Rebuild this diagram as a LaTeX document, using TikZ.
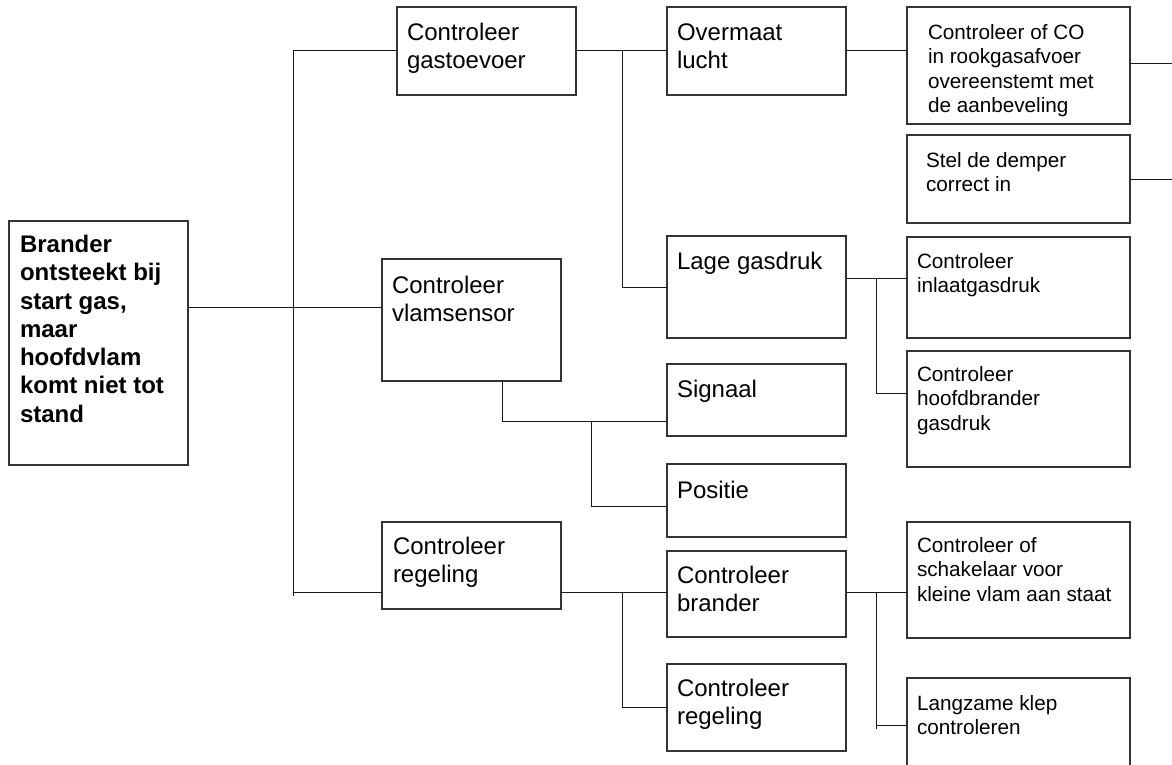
\documentclass[tikz,border=0pt]{standalone}
\usepackage{fontspec}
\setmainfont{Liberation Sans}
\begin{document}
\begin{tikzpicture}[x=1pt,y=-1pt,
  box/.style={draw=black!80, line width=1.1pt, anchor=north west, inner sep=0pt, outer sep=0pt},
  conn/.style={draw=black!90, line width=1pt},
  lbl/.style={anchor=north west, inner sep=0pt, outer sep=0pt, align=left},
  big/.style={lbl, font=\fontsize{24}{27.7}\selectfont},
  bigb/.style={lbl, font=\bfseries\fontsize{24}{28.3}\selectfont},
  small/.style={lbl, font=\fontsize{20.7}{24.5}\selectfont}]
\useasboundingbox (0,0) rectangle (1172,764);
% boxes
\node[box, minimum width=179pt, minimum height=244pt] (main) at (9,221) {};
\node[box, minimum width=179pt, minimum height=88pt] (gas) at (397,7) {};
\node[box, minimum width=179pt, minimum height=122pt] (vlam) at (382,259) {};
\node[box, minimum width=179pt, minimum height=87pt] (reg1) at (382,522) {};
\node[box, minimum width=179pt, minimum height=88pt] (ovm) at (667,7) {};
\node[box, minimum width=179pt, minimum height=102pt] (lage) at (667,236) {};
\node[box, minimum width=179pt, minimum height=72pt] (sig) at (667,364) {};
\node[box, minimum width=179pt, minimum height=73pt] (pos) at (667,464) {};
\node[box, minimum width=179pt, minimum height=86pt] (bra) at (667,551) {};
\node[box, minimum width=179pt, minimum height=87pt] (reg2) at (667,664) {};
\node[box, minimum width=223pt, minimum height=117pt] (co) at (907,7) {};
\node[box, minimum width=223pt, minimum height=88pt] (dem) at (907,135) {};
\node[box, minimum width=223pt, minimum height=101pt] (inl) at (907,237) {};
\node[box, minimum width=223pt, minimum height=116pt] (hoo) at (907,351) {};
\node[box, minimum width=223pt, minimum height=116pt] (sch) at (907,522) {};
\node[box, minimum width=223pt, minimum height=120pt] (lan) at (907,678) {};
% texts
\node[bigb] (mainT) at ([shift={(11pt,-14pt)}]main.north west) {Brander\\ontsteekt bij\\start gas,\\maar\\hoofdvlam\\komt niet tot\\stand};
\node[big] (gasT) at ([shift={(10pt,-16pt)}]gas.north west) {Controleer\\gastoevoer};
\node[big] (vlamT) at ([shift={(10pt,-17pt)}]vlam.north west) {Controleer\\vlamsensor};
\node[big] (reg1T) at ([shift={(11pt,-15pt)}]reg1.north west) {Controleer\\regeling};
\node[big] (ovmT) at ([shift={(10pt,-17pt)}]ovm.north west) {Overmaat\\lucht};
\node[big] (lageT) at ([shift={(10pt,-16pt)}]lage.north west) {Lage gasdruk};
\node[big] (sigT) at ([shift={(10pt,-16pt)}]sig.north west) {Signaal};
\node[big] (posT) at ([shift={(10pt,-17pt)}]pos.north west) {Positie};
\node[big] (braT) at ([shift={(10pt,-15pt)}]bra.north west) {Controleer\\brander};
\node[big] (reg2T) at ([shift={(10pt,-15pt)}]reg2.north west) {Controleer\\regeling};
\node[small] (coT) at ([shift={(21pt,-17pt)}]co.north west) {Controleer of CO\\in rookgasafvoer\\overeenstemt met\\de aanbeveling};
\node[small] (demT) at ([shift={(19pt,-17pt)}]dem.north west) {Stel de demper\\correct in};
\node[small] (inlT) at ([shift={(10pt,-16pt)}]inl.north west) {Controleer\\inlaatgasdruk};
\node[small] (hooT) at ([shift={(10pt,-15pt)}]hoo.north west) {Controleer\\hoofdbrander\\gasdruk};
\node[small] (schT) at ([shift={(10pt,-15pt)}]sch.north west) {Controleer of\\schakelaar voor\\kleine vlam aan staat};
\node[small] (lanT) at ([shift={(10pt,-17pt)}]lan.north west) {Langzame klep\\controleren};
% coordinates
\coordinate (trunkTop) at (293,50);
\coordinate (trunkBot) at (293,596);
\coordinate (r1) at (293,592);
\coordinate (b1) at (622,50);
\coordinate (b2) at (876,278);
\coordinate (b3) at (591,421);
\coordinate (b4) at (622,592);
\coordinate (b5) at (876,592);
\coordinate (edgeR) at (1175,0);
% connectors
\draw[conn] (trunkTop) -- (trunkBot);
\draw[conn] (trunkTop) -- (trunkTop -| gas.west);
\draw[conn] ([yshift=36pt]main.east) -- ([yshift=36pt]main.east -| vlam.west);
\draw[conn] (r1) -- (r1 -| reg1.west);
\draw[conn] (gas.east |- trunkTop) -- (ovm.west |- trunkTop);
\draw[conn] (b1) |- (lage.west);
\draw[conn] (ovm.east |- trunkTop) -- (co.west |- trunkTop);
\draw[conn] ([yshift=2.5pt]co.east) -- ([yshift=2.5pt]co.east -| edgeR);
\draw[conn] (dem.east) -- (dem.east -| edgeR);
\draw[conn] (lage.east |- b2) -- (inl.west |- b2);
\draw[conn] (b2) |- ([yshift=16pt]hoo.west);
\draw[conn] ([xshift=30.5pt]vlam.south) |- (sig.west |- b3);
\draw[conn] (b3) |- ([yshift=-5.5pt]pos.west);
\draw[conn] (reg1.east |- b4) -- (bra.west |- b4);
\draw[conn] (b4) |- (reg2.west);
\draw[conn] (bra.east |- b5) -- (sch.west |- b5);
\draw[conn] (b5) |- ([yshift=13pt]lan.west);
\draw[conn] ([yshift=13pt]lan.west -| b5) -- ++(0,4);
\end{tikzpicture}
\end{document}
